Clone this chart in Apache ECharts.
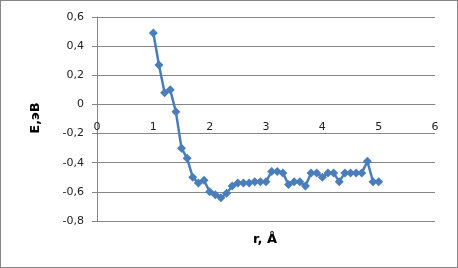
<!DOCTYPE html>
<html>
<head>
<meta charset="utf-8">
<script src="https://cdn.jsdelivr.net/npm/echarts@6/dist/echarts.min.js"></script>
<style>
html,body{margin:0;padding:0;background:#fff;}
#wrap{position:absolute;left:0;top:0;width:456px;height:266px;border:1px solid #868686;}
#c{position:absolute;left:0;top:0;width:458px;height:268px;}
</style>
</head>
<body>
<div id="wrap"></div>
<div id="c"></div>
<script>
var rValues = [1.0,1.1,1.2,1.3,1.4,1.5,1.6,1.7,1.8,1.9,2.0,2.1,2.2,2.3,2.4,2.5,2.6,2.7,2.8,2.9,3.0,3.1,3.2,3.3,3.4,3.5,3.6,3.7,3.8,3.9,4.0,4.1,4.2,4.3,4.4,4.5,4.6,4.7,4.8,4.9,5.0];
var eValues = [0.49,0.27,0.08,0.10,-0.05,-0.30,-0.37,-0.50,-0.54,-0.52,-0.60,-0.62,-0.64,-0.61,-0.56,-0.54,-0.54,-0.54,-0.53,-0.53,-0.53,-0.46,-0.46,-0.47,-0.55,-0.53,-0.53,-0.56,-0.47,-0.47,-0.50,-0.47,-0.47,-0.53,-0.47,-0.47,-0.47,-0.47,-0.39,-0.53,-0.53];
var xTicks = {min:0, max:6, step:1};
var yTicks = {min:-0.8, max:0.6, step:0.2};
var xTitle = 'r, Å';
var yTitle = 'E,эВ';

var gridTop = 17, gridBottom = 47, H = 268;
var plotH = H - gridTop - gridBottom;
var zeroOffset = -plotH * (0 - yTicks.min) / (yTicks.max - yTicks.min);

var chart = echarts.init(document.getElementById('c'), null, {renderer:'canvas'});
var pts = rValues.map(function(r,i){return [r, eValues[i]];});
function fmt(v){ var s = (Math.round(v*10)/10).toString(); return s.replace('.', ','); }
chart.setOption({
  animation:false,
  grid:{left:97, top:gridTop, right:23, bottom:gridBottom},
  xAxis:{
    type:'value', min:xTicks.min, max:xTicks.max, interval:xTicks.step,
    position:'bottom', offset:zeroOffset,
    axisLine:{onZero:false, lineStyle:{color:'#868686', width:1}},
    axisTick:{show:false},
    splitLine:{show:false},
    axisLabel:{margin:17, color:'#222', fontFamily:'DejaVu Sans', fontSize:11, formatter:fmt}
  },
  yAxis:{
    type:'value', min:yTicks.min, max:yTicks.max, interval:yTicks.step,
    axisLine:{show:true, onZero:false, lineStyle:{color:'#868686', width:1}},
    axisTick:{show:true, length:5, lineStyle:{color:'#868686'}},
    splitLine:{show:true, lineStyle:{color:'#868686', width:1}},
    axisLabel:{margin:13, color:'#222', fontFamily:'DejaVu Sans', fontSize:11, formatter:fmt}
  },
  graphic:[
    {type:'text', x:265, y:240, style:{text:xTitle, fill:'#000', font:'bold 13px "DejaVu Sans"', textAlign:'center', textVerticalAlign:'middle'}},
    {type:'text', x:36, y:118, rotation:Math.PI/2, style:{text:yTitle, fill:'#000', font:'bold 13px "DejaVu Sans"', textAlign:'center', textVerticalAlign:'middle'}}
  ],
  series:[{
    type:'line', data:pts,
    symbol:'diamond', symbolSize:9,
    lineStyle:{color:'#4A7EBB', width:2.5},
    itemStyle:{color:'#4A7EBB'}
  }]
});
</script>
</body>
</html>
